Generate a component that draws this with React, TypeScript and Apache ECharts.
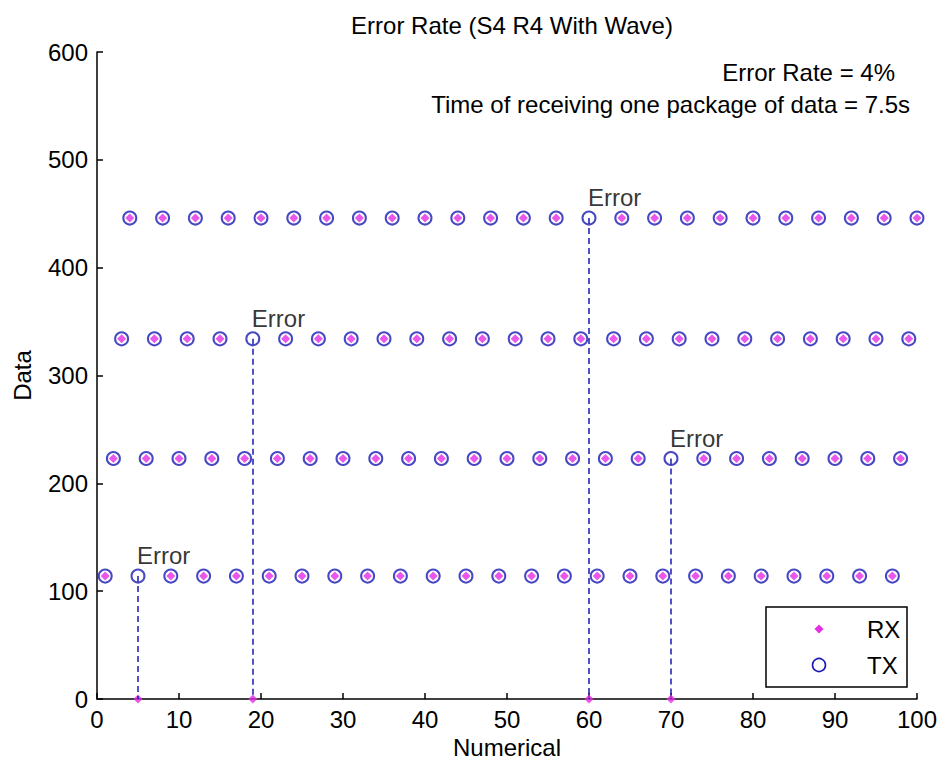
import React, { useEffect, useRef } from "react";
import * as echarts from "echarts";

const FONT = "'Liberation Sans', Arial, Helvetica, sans-serif";
const FS = 24;

const titleText = "Error Rate (S4 R4 With Wave)";
const noteLines = ["Error Rate = 4%", "Time of receiving one package of data = 7.5s"];
const xTicks = { min: 0, max: 100, interval: 10 };
const yTicks = { min: 0, max: 600, interval: 100 };

const numerical = [
  1, 2, 3, 4, 5, 6, 7, 8, 9, 10, 11, 12, 13, 14, 15, 16, 17, 18, 19, 20,
  21, 22, 23, 24, 25, 26, 27, 28, 29, 30, 31, 32, 33, 34, 35, 36, 37, 38, 39, 40,
  41, 42, 43, 44, 45, 46, 47, 48, 49, 50, 51, 52, 53, 54, 55, 56, 57, 58, 59, 60,
  61, 62, 63, 64, 65, 66, 67, 68, 69, 70, 71, 72, 73, 74, 75, 76, 77, 78, 79, 80,
  81, 82, 83, 84, 85, 86, 87, 88, 89, 90, 91, 92, 93, 94, 95, 96, 97, 98, 99, 100,
];

const txData = [
  114, 223, 334, 446, 114, 223, 334, 446, 114, 223, 334, 446, 114, 223, 334, 446, 114, 223, 334, 446,
  114, 223, 334, 446, 114, 223, 334, 446, 114, 223, 334, 446, 114, 223, 334, 446, 114, 223, 334, 446,
  114, 223, 334, 446, 114, 223, 334, 446, 114, 223, 334, 446, 114, 223, 334, 446, 114, 223, 334, 446,
  114, 223, 334, 446, 114, 223, 334, 446, 114, 223, 334, 446, 114, 223, 334, 446, 114, 223, 334, 446,
  114, 223, 334, 446, 114, 223, 334, 446, 114, 223, 334, 446, 114, 223, 334, 446, 114, 223, 334, 446,
];

const rxData = [
  114, 223, 334, 446, 0, 223, 334, 446, 114, 223, 334, 446, 114, 223, 334, 446, 114, 223, 0, 446,
  114, 223, 334, 446, 114, 223, 334, 446, 114, 223, 334, 446, 114, 223, 334, 446, 114, 223, 334, 446,
  114, 223, 334, 446, 114, 223, 334, 446, 114, 223, 334, 446, 114, 223, 334, 446, 114, 223, 334, 0,
  114, 223, 334, 446, 114, 223, 334, 446, 114, 0, 334, 446, 114, 223, 334, 446, 114, 223, 334, 446,
  114, 223, 334, 446, 114, 223, 334, 446, 114, 223, 334, 446, 114, 223, 334, 446, 114, 223, 334, 446,
];

const errorNumbers = [5, 19, 60, 70];
const errorLabel = "Error";
const legendNames = ["RX", "TX"];

const TX_COLOR = "#1a1ab4";
const RX_COLOR = "#e52ee5";

export default function App() {
  const ref = useRef<HTMLDivElement>(null);

  useEffect(() => {
    document.body.style.margin = "0";
    if (!ref.current) return;
    const chart = echarts.init(ref.current, null, { renderer: "svg" });

    const txPoints = numerical.map((x, i) => {
      const isErr = errorNumbers.includes(x);
      if (!isErr) return [x, txData[i]];
      return {
        value: [x, txData[i]],
        label: {
          show: true,
          formatter: errorLabel,
          position: [6.5, -13],
          align: "left",
          verticalAlign: "middle",
          fontSize: FS,
          color: "#000",
          fontFamily: FONT,
        },
      };
    });
    const rxPoints = numerical.map((x, i) => [x, rxData[i]]);
    const errLines = errorNumbers.map((x) => {
      const i = numerical.indexOf(x);
      return [{ coord: [x, txData[i]] }, { coord: [x, 0] }];
    });

    const axisCommon = {
      type: "value",
      nameLocation: "middle",
      nameTextStyle: { fontSize: FS, color: "#000", fontFamily: FONT },
      axisLine: { show: true, lineStyle: { color: "#000", width: 1.5 } },
      axisTick: { show: true, inside: true, length: 6, lineStyle: { color: "#000", width: 1.5 } },
      axisLabel: { fontSize: FS, color: "#000", fontFamily: FONT },
      splitLine: { show: false },
    };

    chart.setOption({
      animation: false,
      backgroundColor: "#fff",
      title: {
        text: titleText,
        left: 507,
        textAlign: "center",
        top: 8,
        textStyle: { fontSize: FS, fontWeight: "normal", color: "#000", fontFamily: FONT },
      },
      grid: { left: 97, right: 23, top: 52, bottom: 67 },
      xAxis: {
        ...axisCommon,
        ...xTicks,
        name: "Numerical",
        nameGap: 33,
        axisLabel: { ...axisCommon.axisLabel, margin: 8 },
      },
      yAxis: {
        ...axisCommon,
        ...yTicks,
        name: "Data",
        nameGap: 63,
        axisLabel: { ...axisCommon.axisLabel, margin: 9 },
      },
      series: [
        {
          name: "TX",
          type: "scatter",
          symbol: "emptyCircle",
          symbolSize: 13,
          itemStyle: { color: TX_COLOR, borderWidth: 1.6 },
          data: txPoints,
          markLine: {
            silent: true,
            symbol: "none",
            label: { show: false },
            lineStyle: { color: TX_COLOR, type: [6, 4], width: 1.5 },
            data: errLines,
          },
          z: 2,
        },
        {
          name: "RX",
          type: "scatter",
          symbol: "diamond",
          symbolSize: 9,
          itemStyle: { color: RX_COLOR },
          data: rxPoints,
          z: 3,
        },
      ],
      graphic: [
        {
          type: "text",
          right: 940 - 895,
          top: 73 - 13,
          style: { text: noteLines[0], fontSize: FS, fill: "#000", fontFamily: FONT },
        },
        {
          type: "text",
          right: 940 - 910,
          top: 105 - 13,
          style: { text: noteLines[1], fontSize: FS, fill: "#000", fontFamily: FONT },
        },
        {
          type: "rect",
          shape: { x: 766, y: 607, width: 141, height: 80 },
          style: { fill: "#fff", stroke: "#000", lineWidth: 1.5 },
          z: 10,
        },
        {
          type: "polygon",
          shape: { points: [[819, 624.5], [823.5, 629], [819, 633.5], [814.5, 629]] },
          style: { fill: RX_COLOR },
          z: 11,
        },
        {
          type: "circle",
          shape: { cx: 819, cy: 665, r: 6.5 },
          style: { fill: "#fff", stroke: TX_COLOR, lineWidth: 1.6 },
          z: 11,
        },
        {
          type: "text",
          x: 867,
          y: 629,
          style: { text: legendNames[0], fontSize: FS, fill: "#000", fontFamily: FONT, verticalAlign: "middle" },
          z: 11,
        },
        {
          type: "text",
          x: 867,
          y: 665,
          style: { text: legendNames[1], fontSize: FS, fill: "#000", fontFamily: FONT, verticalAlign: "middle" },
          z: 11,
        },
      ],
    });

    return () => chart.dispose();
  }, []);

  return <div ref={ref} style={{ width: 940, height: 766 }} />;
}
